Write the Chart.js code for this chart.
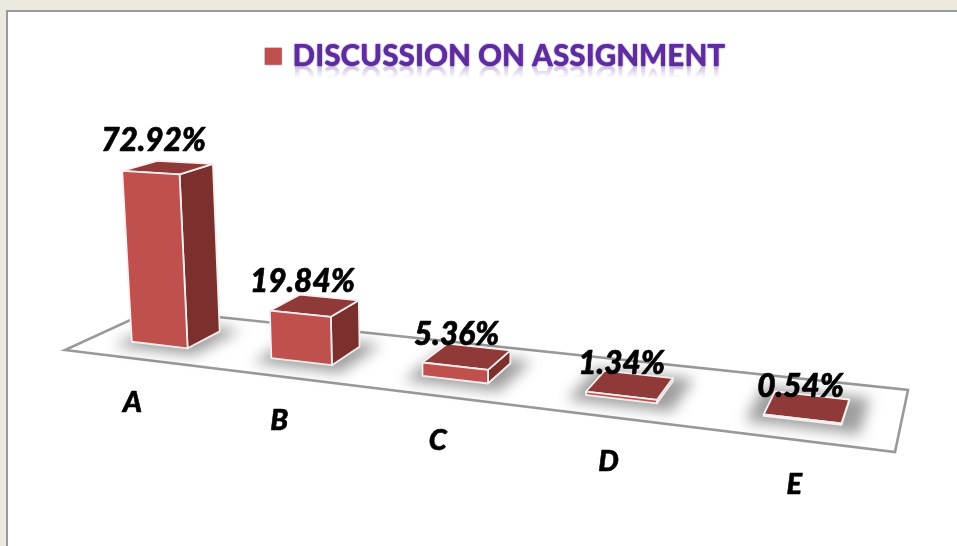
<!DOCTYPE html>
<html><head><meta charset="utf-8">
<style>
html,body{margin:0;padding:0;background:#ECE9DF;overflow:hidden}
#panel{position:absolute;left:6px;top:10px;width:960px;height:546px;background:#fff;border-left:2px solid #999;border-top:2px solid #999;box-sizing:border-box}
canvas{position:absolute;left:0;top:0}
</style>
<script src="https://cdn.jsdelivr.net/npm/chart.js@4/dist/chart.umd.min.js"></script>
</head><body><div id="panel"></div><canvas id="c" width="957" height="546"></canvas>
<script>
const categories = ['A','B','C','D','E'];
const seriesValues = [72.92,19.84,5.36,1.34,0.54];
const seriesName = 'DISCUSSION ON ASSIGNMENT';

// perspective floor (front-left, front-right, back-right, back-left)
const FLOOR = [[65,350],[895,452],[908,390],[152,310]];
const DEPTH = [0.3,0.7];
const Z = {p:-0.0748, q:-1, r:-0.000166, unit:2.452};
const FONT = 'Lato, "Open Sans", sans-serif';
let activeChart = null;

const H = (() => {
  const [[x0,y0],[x1,y1],[x2,y2],[x3,y3]] = FLOOR;
  const dx1=x1-x2, dx2=x3-x2, sx=x0-x1+x2-x3, dy1=y1-y2, dy2=y3-y2, sy=y0-y1+y2-y3;
  const den=dx1*dy2-dx2*dy1;
  const g=(sx*dy2-dx2*sy)/den, h=(dx1*sy-sx*dy1)/den;
  return {a:x1-x0+g*x1,b:x3-x0+h*x3,c:x0,d:y1-y0+g*y1,e:y3-y0+h*y3,f:y0,g,h};
})();
function project(u,v,z){
  const w=H.g*u+H.h*v+1+Z.r*z;
  return [(H.a*u+H.b*v+H.c+Z.p*z)/w,(H.d*u+H.e*v+H.f+Z.q*z)/w];
}
function toU(xs,x){const t=(x-xs.left)/(xs.right-xs.left);return t+0.01*Math.sin(Math.PI*t);}
function poly(ctx,pts){ctx.beginPath();pts.forEach((p,i)=>i?ctx.lineTo(p[0],p[1]):ctx.moveTo(p[0],p[1]));ctx.closePath();}

class Bar3DElement extends Chart.BarElement {
  draw(ctx){
    const chart=activeChart, xs=chart.scales.x, ys=chart.scales.y;
    const u0=toU(xs,this.x-this.width/2), u1=toU(xs,this.x+this.width/2);
    const ppu=ys.getPixelForValue(0)-ys.getPixelForValue(1);
    const z=(this.base-this.y)/ppu*Z.unit;
    const [v0,v1]=DEPTH;
    const fl=project(u0,v0,0), fr=project(u1,v0,0), br=project(u1,v1,0), bl=project(u0,v1,0);
    const tfl=project(u0,v0,z), tfr=project(u1,v0,z), tbr=project(u1,v1,z), tbl=project(u0,v1,z);
    ctx.save();
    ctx.save();
    ctx.filter='blur(7px)';ctx.fillStyle='rgba(0,0,0,0.38)';
    const m=0.018, n=0.1;
    poly(ctx,[project(u0-m,v0-n,0),project(u1+m,v0-n,0),project(u1+m,v1+n,0),project(u0-m,v1+n,0)].map(p=>[p[0]+2,p[1]+1]));ctx.fill();
    ctx.restore();
    ctx.lineJoin='round';ctx.lineWidth=1.8;ctx.strokeStyle='#F6EFEF';
    ctx.fillStyle='#7B302E';poly(ctx,[fr,br,tbr,tfr]);ctx.fill();ctx.stroke();
    ctx.fillStyle='#8F3A38';poly(ctx,[tfl,tfr,tbr,tbl]);ctx.fill();ctx.stroke();
    ctx.fillStyle=this.options.backgroundColor;poly(ctx,[fl,fr,tfr,tfl]);ctx.fill();ctx.stroke();
    ctx.restore();
  }
}
Bar3DElement.id='bar3d';
Bar3DElement.defaults=Chart.BarElement.defaults;
Bar3DElement.defaultRoutes=Chart.BarElement.defaultRoutes;
class Bar3DController extends Chart.BarController {}
Bar3DController.id='bar3d';
Bar3DController.defaults=Object.assign({},Chart.BarController.defaults,{dataElementType:'bar3d'});
Bar3DController.overrides=Chart.BarController.overrides;
Chart.register(Bar3DElement,Bar3DController);

const floorPlugin={id:'floor',
  afterLayout(chart){
    const lg=chart.legend;
    if(lg.__wrapped) return; lg.__wrapped=true;
    const orig=lg.draw;
    lg.draw=function(){
      const ctx=chart.ctx, base=66;
      ctx.save();ctx.beginPath();ctx.rect(288,base,445,14);ctx.clip();
      ctx.translate(0,2*base);ctx.scale(1,-1);ctx.globalAlpha=0.3;orig.call(this);ctx.restore();
      const g=ctx.createLinearGradient(0,base,0,base+12);
      g.addColorStop(0,'rgba(255,255,255,0)');g.addColorStop(1,'rgba(255,255,255,1)');
      ctx.save();ctx.fillStyle=g;ctx.fillRect(288,base,445,14);ctx.restore();
      ctx.save();ctx.shadowColor='rgba(70,25,130,0.95)';ctx.shadowBlur=1.6;orig.call(this);ctx.restore();
    };
  },
  beforeDatasetsDraw(chart){
    activeChart=chart;
    const ctx=chart.ctx;
    ctx.save();ctx.strokeStyle='#999';ctx.lineWidth=2.6;ctx.lineJoin='miter';
    poly(ctx,FLOOR);ctx.stroke();ctx.restore();
  },
  afterDatasetsDraw(chart){
    const ctx=chart.ctx, xs=chart.scales.x, meta=chart.getDatasetMeta(0);
    ctx.save();ctx.fillStyle='#000';ctx.strokeStyle='#000';ctx.lineJoin='round';ctx.textAlign='center';ctx.textBaseline='middle';
    meta.data.forEach((el,i)=>{
      const u=toU(xs,el.x);
      const ys=chart.scales.y, z=(el.base-el.y)/(ys.getPixelForValue(0)-ys.getPixelForValue(1))*Z.unit;
      const top=project(u,0.5,z), front=project(u,DEPTH[0],0);
      const lx=top[0]-15.5+10*u, ly=top[1]-23+3*u-0.02*z, tx=front[0]-29.5+24*u, ty=front[1]+57+8*u;
      const val=seriesValues[i].toFixed(2)+'%';
      ctx.font='italic 900 31.5px '+FONT;ctx.lineWidth=0.7;
      ctx.fillText(val,lx,ly);ctx.strokeText(val,lx,ly);
      ctx.font='italic 900 29px '+FONT;ctx.lineWidth=0.6;
      ctx.fillText(categories[i],tx,ty);ctx.strokeText(categories[i],tx,ty);
    });
    ctx.restore();
  }
};

new Chart(document.getElementById('c'),{
  type:'bar3d',
  data:{labels:categories,datasets:[{label:seriesName,data:seriesValues,backgroundColor:'#C0504D',borderWidth:0,barPercentage:0.41,categoryPercentage:1}]},
  options:{
    responsive:false,animation:false,
    layout:{padding:{left:37,right:0,top:31.5,bottom:60}},
    plugins:{
      tooltip:{enabled:false},
      legend:{display:true,position:'top',align:'center',
        labels:{usePointStyle:true,pointStyle:'rect',boxWidth:9,boxHeight:17,color:'#5F2BA0',padding:10,font:{family:FONT,size:29.7,weight:'900'}}}
    },
    scales:{
      x:{type:'category',display:false,offset:true},
      y:{type:'linear',display:false,min:0,max:80}
    }
  },
  plugins:[floorPlugin]
});
</script></body></html>
